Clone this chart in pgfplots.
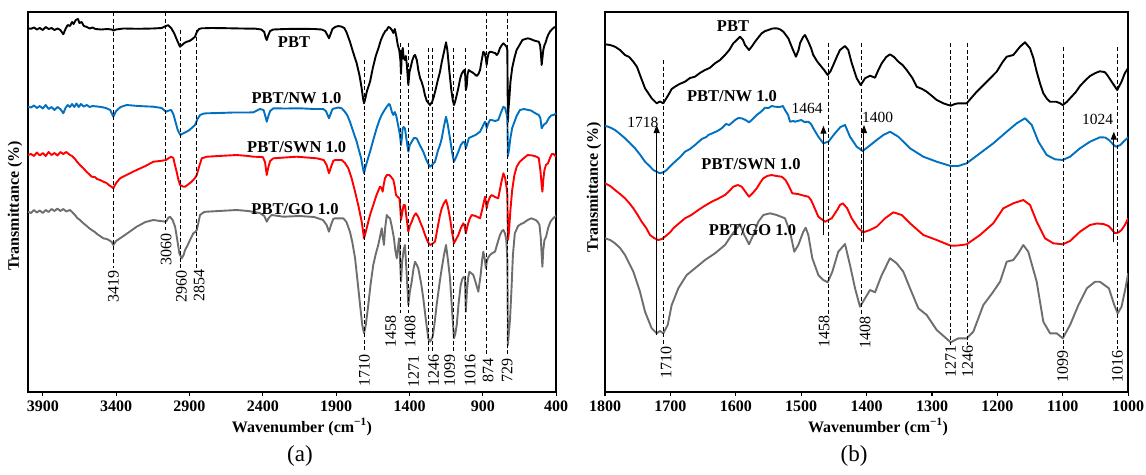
\documentclass[border=0pt]{standalone}
\usepackage{fontspec}
\setmainfont{Liberation Serif}
\usepackage{pgfplots}
\pgfplotsset{compat=1.18}
\usetikzlibrary{arrows.meta}
\definecolor{nwblue}{HTML}{0070C0}
\definecolor{swnred}{HTML}{FF0000}
\definecolor{gogray}{HTML}{6E6E6E}
\pgfplotsset{ftir/.style={
  scale only axis, anchor=center, x dir=reverse,
  ymin=-392, ymax=-12.3, ytick=\empty,
  axis line style={line width=1.9pt},
  tick align=outside, xtick pos=left, major tick length=4pt,
  tick style={black, line width=1.2pt},
  xticklabel style={font=\bfseries\fontsize{16}{16}\selectfont, yshift=-1.5pt},
  /pgf/number format/assume math mode=true,
  /pgf/number format/1000 sep={},
  every axis plot/.append style={line width=1.9pt, line join=round},
}}
\tikzset{
  dl/.style={black, line width=1pt, dash pattern=on 4pt off 2.5pt},
  ar/.style={black, line width=1pt, -{Triangle[length=8pt,width=6pt]}},
  pk/.style={rotate=90, anchor=base, font=\fontsize{16}{16}\selectfont, inner sep=0pt},
  sl/.style={anchor=base, font=\bfseries\fontsize{16.5}{16.5}\selectfont, inner sep=0pt},
  al/.style={anchor=base, font=\fontsize{15.5}{15.5}\selectfont, inner sep=0pt},
}
\begin{document}
\begin{tikzpicture}
\path[use as bounding box] (0pt,0pt) rectangle (1146pt,-474pt);
% ---------------- panel (a)
\begin{axis}[ftir, at={(292.15pt,-202.15pt)}, width=528.1pt, height=379.7pt,
  xmin=400, xmax=4000, xtick={400,900,1400,1900,2400,2900,3400,3900}]
\addplot[black] coordinates {(4000,-28.3)(3980,-28.8)(3960,-27.5)(3940,-29.5)(3920,-28)(3900,-30)(3880,-27)(3860,-29)(3840,-28)(3820,-30)(3800,-28.5)(3780,-30)(3760,-34.3)(3745,-29)(3730,-25)(3715,-26)(3700,-22)(3690,-24)(3675,-20)(3660,-19)(3650,-23)(3635,-22)(3620,-26)(3600,-27)(3580,-28.5)(3560,-27.5)(3540,-29)(3500,-29.5)(3460,-29)(3430,-29.5)(3419,-30.5)(3400,-29.5)(3350,-28.5)(3250,-28.8)(3150,-28.5)(3090,-28)(3060,-26)(3045,-25.2)(3025,-28)(3005,-33)(2985,-40)(2965,-46.7)(2950,-45)(2935,-43)(2918,-41.7)(2900,-41)(2880,-39)(2862,-36.7)(2850,-32)(2835,-29)(2816,-28.3)(2750,-28)(2650,-28.2)(2550,-28.5)(2450,-28.7)(2410,-29.5)(2390,-32)(2380,-38)(2373,-40)(2362,-35)(2350,-31)(2328,-29.5)(2250,-29)(2150,-28.8)(2050,-29)(2000,-29.5)(1975,-31)(1960,-35)(1949,-38.3)(1938,-34)(1925,-29)(1907,-27)(1885,-26)(1862,-26.7)(1845,-28)(1830,-32)(1806,-41.7)(1785,-52)(1760,-63.3)(1740,-76)(1726,-88.3)(1716,-99)(1710,-103.3)(1702,-99)(1690,-91)(1669,-81.7)(1650,-68)(1630,-56)(1612,-48.3)(1595,-40)(1580,-35)(1565,-31)(1555,-30)(1545,-27)(1533,-27.7)(1520,-30)(1510,-33)(1500,-29)(1490,-36)(1480,-45)(1470,-50)(1462,-60)(1458,-74)(1452,-52)(1446,-48)(1440,-58)(1432,-60)(1425,-56)(1418,-65)(1408,-85)(1400,-72)(1390,-66)(1380,-60)(1370,-56)(1362,-55)(1350,-60)(1340,-70)(1328,-78)(1317,-82)(1305,-88)(1295,-95)(1282,-101)(1271,-103)(1260,-105)(1252,-103)(1246,-102)(1235,-97)(1226,-92)(1210,-82)(1192,-71.7)(1180,-62)(1165,-52)(1151,-42.3)(1142,-50)(1128,-71.7)(1115,-90)(1105,-100)(1097,-105)(1088,-101)(1078,-95)(1067,-88)(1055,-79)(1045,-74)(1033,-71)(1025,-70)(1020,-76)(1016,-90)(1010,-86)(1004,-74)(996,-70)(988,-71)(976,-72)(965,-73)(950,-75)(942,-76)(930,-74)(919,-70)(910,-62)(897,-51.7)(888,-53)(880,-58)(874,-65)(868,-58)(860,-53)(851,-51.7)(840,-52)(830,-52.5)(817,-53)(805,-55)(795,-53)(783,-48)(770,-45)(760,-43.3)(748,-45)(738,-47)(733,-50)(731,-90)(729,-122)(726,-110)(720,-100)(712,-82)(700,-68)(685,-58)(670,-50)(650,-45)(630,-40)(610,-39)(594,-38.3)(575,-39)(560,-40)(540,-41)(519,-41.7)(510,-45)(505,-52)(499,-65)(494,-58)(488,-50)(480,-45)(474,-43.3)(463,-38)(455,-35)(443,-31.7)(430,-29.5)(415,-27.5)(400,-26.7)};
\addplot[nwblue] coordinates {(4000,-106.7)(3980,-107.5)(3960,-105.5)(3940,-108)(3920,-106)(3900,-108.5)(3880,-105)(3860,-109)(3840,-107)(3820,-110)(3800,-107)(3780,-109)(3760,-113.3)(3745,-108)(3730,-105)(3715,-107)(3700,-104)(3685,-107)(3670,-103.5)(3655,-107)(3640,-104)(3620,-106.5)(3600,-105)(3580,-107)(3560,-106)(3530,-106.5)(3500,-107)(3470,-108)(3440,-110)(3419,-116.7)(3400,-111)(3370,-107)(3328,-105)(3250,-106)(3146,-106.7)(3090,-108)(3060,-111.7)(3040,-110.5)(3025,-110)(3010,-114)(2995,-122)(2980,-130)(2962,-135)(2945,-133.5)(2919,-131.7)(2900,-130)(2885,-128)(2862,-125)(2845,-119)(2828,-115)(2800,-113.5)(2782,-113.3)(2700,-113)(2600,-112.5)(2500,-112.5)(2465,-112.3)(2419,-109)(2395,-110)(2385,-115)(2373,-121.7)(2362,-116)(2350,-111)(2328,-108.3)(2250,-108.5)(2147,-108.3)(2050,-109)(1988,-109)(1970,-111)(1958,-115)(1949,-118.3)(1938,-114)(1925,-109)(1908,-108.3)(1885,-107.5)(1862,-108.3)(1845,-111)(1825,-115)(1806,-121.7)(1785,-131)(1760,-141.7)(1745,-150)(1730,-158)(1718,-168)(1710,-173.3)(1700,-167)(1690,-162)(1669,-151.7)(1645,-139)(1624,-128.3)(1605,-120)(1590,-115)(1570,-110)(1555,-106.7)(1540,-104)(1533,-105)(1520,-112)(1510,-115)(1500,-112)(1490,-116)(1478,-125)(1465,-135)(1458,-145)(1452,-138)(1446,-128)(1440,-127)(1431,-128.3)(1420,-140)(1408,-151.7)(1398,-145)(1385,-141.7)(1370,-138)(1351,-138.3)(1330,-145)(1306,-151.7)(1285,-160)(1271,-164)(1260,-166.7)(1246,-165)(1226,-161.7)(1205,-150)(1192,-145)(1180,-138.3)(1165,-126)(1151,-116.7)(1140,-124)(1124,-138.3)(1110,-152)(1097,-161.7)(1085,-158)(1067,-151.7)(1050,-145)(1033,-141.7)(1024,-142)(1016,-148.3)(1005,-143)(995,-138)(976,-136.7)(950,-135)(919,-131.7)(900,-126)(885,-121.7)(879,-124)(874,-128.3)(865,-124)(851,-120)(840,-120)(817,-121)(795,-120)(775,-112)(760,-106.7)(748,-108)(738,-114)(733,-118)(729,-156)(722,-150)(712,-138)(700,-128)(690,-124)(670,-116)(647,-110)(620,-109)(590,-110)(572,-110.5)(545,-113)(519,-115)(508,-118)(499,-128.3)(490,-126)(480,-124)(469,-123.3)(450,-118)(435,-115.5)(418,-115)(400,-113.3)};
\addplot[swnred] coordinates {(4000,-155)(3980,-154)(3960,-156)(3940,-152.5)(3920,-155.5)(3900,-153)(3880,-156)(3860,-152)(3840,-155)(3820,-153)(3800,-155.5)(3780,-152)(3760,-154)(3740,-152)(3714,-155)(3700,-156)(3680,-159)(3665,-162)(3646,-165)(3625,-168)(3600,-172)(3585,-174)(3566,-176.7)(3545,-177)(3530,-179)(3510,-180)(3487,-181.7)(3465,-183)(3450,-185)(3430,-187)(3419,-188.3)(3400,-183)(3373,-178.3)(3330,-175)(3260,-170)(3200,-166)(3146,-161.7)(3100,-161)(3060,-160)(3040,-158)(3025,-156.7)(3010,-158)(2999,-165)(2987,-172)(2975,-180)(2964,-185)(2945,-186.5)(2930,-186.7)(2905,-184)(2885,-181.7)(2862,-178)(2850,-175)(2835,-167)(2816,-158.3)(2782,-156.7)(2700,-156)(2578,-155)(2500,-156)(2465,-156.7)(2400,-157)(2385,-162)(2373,-175)(2362,-167)(2350,-161)(2328,-158.3)(2250,-157.5)(2169,-156.7)(2100,-157.5)(2032,-158.3)(1985,-160)(1965,-165)(1949,-173.3)(1935,-167)(1920,-161)(1908,-160)(1862,-160)(1840,-163)(1817,-168.3)(1795,-178)(1771,-191.7)(1748,-206)(1726,-221.7)(1716,-232)(1710,-238.3)(1700,-233)(1681,-221.7)(1665,-213)(1647,-205)(1625,-195)(1601,-186.7)(1590,-188)(1583,-191.7)(1575,-184)(1567,-178.3)(1555,-175)(1538,-175)(1525,-177)(1510,-180)(1500,-187)(1492,-195)(1480,-197)(1469,-198.3)(1463,-208)(1458,-220)(1450,-213)(1440,-205)(1431,-205)(1420,-218)(1408,-231.7)(1398,-226)(1385,-221.7)(1370,-216)(1356,-213.3)(1340,-217)(1328,-221.7)(1310,-228)(1294,-235)(1275,-242)(1260,-245)(1246,-244)(1226,-241.7)(1205,-225)(1192,-215)(1180,-208.3)(1165,-203)(1151,-200)(1138,-207)(1124,-218.3)(1110,-232)(1097,-243.3)(1085,-240)(1067,-235)(1050,-228)(1033,-223.3)(1024,-226)(1016,-233.3)(1005,-226)(990,-219)(976,-215)(950,-216)(919,-218.3)(905,-210)(885,-196.7)(879,-202)(874,-208.3)(865,-202)(851,-197)(840,-195)(817,-197)(795,-198.3)(775,-183)(760,-173.3)(748,-178)(738,-188)(733,-195)(729,-240)(722,-232)(712,-210)(700,-190)(685,-175)(670,-167)(650,-162)(620,-158)(594,-155)(560,-155.5)(535,-156.7)(519,-158)(508,-170)(499,-185)(494,-191.7)(488,-180)(480,-170)(470,-165)(456,-163.3)(440,-157)(430,-154)(418,-154)(400,-156.7)};
\addplot[gogray] coordinates {(4000,-211.7)(3980,-213)(3960,-210)(3940,-212.5)(3920,-210.5)(3900,-213)(3880,-210)(3860,-212)(3840,-209)(3820,-211)(3800,-208.5)(3780,-211)(3760,-209)(3740,-211.5)(3714,-210)(3700,-212)(3680,-215)(3665,-218)(3646,-220)(3625,-223)(3600,-226)(3585,-228)(3566,-230)(3545,-232)(3530,-234)(3510,-236)(3487,-238.3)(3465,-239)(3450,-240)(3430,-242)(3419,-245)(3400,-241)(3373,-238.3)(3330,-234)(3260,-226.7)(3200,-222)(3146,-220)(3100,-221)(3060,-221.7)(3045,-218)(3033,-216.7)(3015,-220)(2998,-226.7)(2985,-238)(2969,-253.3)(2953,-258.3)(2940,-255)(2930,-250)(2915,-246)(2896,-240)(2874,-233.3)(2860,-232)(2850,-230)(2838,-222)(2828,-215)(2800,-212)(2782,-211.7)(2700,-211)(2578,-210)(2500,-211)(2420,-213)(2390,-216)(2373,-221.7)(2360,-218)(2340,-215)(2260,-216.7)(2150,-216)(2050,-217)(1990,-220)(1965,-225)(1949,-231.7)(1935,-225)(1920,-219)(1908,-218.3)(1851,-218.3)(1830,-222)(1806,-231.7)(1790,-242)(1771,-258.3)(1755,-280)(1737,-305)(1722,-325)(1710,-333.3)(1698,-325)(1681,-305)(1665,-284)(1647,-265)(1630,-254)(1613,-245)(1600,-236)(1589,-228.3)(1582,-237)(1574,-245)(1566,-228)(1555,-215)(1545,-217)(1533,-218.3)(1520,-227)(1506,-238.3)(1497,-250)(1487,-258.3)(1478,-247)(1471,-238.3)(1464,-262)(1458,-281.7)(1450,-262)(1440,-250)(1431,-245)(1420,-272)(1408,-305)(1397,-291)(1385,-281.7)(1372,-268)(1362,-261.7)(1350,-265)(1340,-268.3)(1320,-284)(1306,-298.3)(1290,-318)(1272,-338.3)(1260,-341.7)(1250,-339)(1242,-336.7)(1228,-322)(1215,-305)(1195,-283)(1180,-268.3)(1165,-255)(1151,-245)(1138,-260)(1124,-278.3)(1110,-310)(1097,-338.3)(1088,-334)(1078,-325)(1065,-303)(1051,-285)(1040,-279)(1030,-277)(1022,-278)(1016,-311.7)(1008,-290)(1000,-278)(992,-271.7)(980,-273)(965,-275)(950,-282)(931,-291.7)(915,-275)(905,-260)(897,-251.7)(888,-258)(879,-268.3)(874,-262)(865,-258)(851,-255)(835,-253)(817,-251.7)(800,-243)(783,-235)(770,-231)(760,-230)(750,-233)(740,-240)(733,-260)(729,-345)(724,-335)(715,-320)(705,-290)(695,-255)(682,-233.3)(660,-226)(640,-224)(620,-222.7)(595,-220)(569,-218.3)(540,-220)(525,-222)(514,-225)(505,-238)(499,-255)(494,-266.7)(488,-250)(480,-240)(469,-236.7)(455,-228)(440,-222)(431,-220)(415,-217.5)(401,-216)};
\draw[dl] (axis cs:3419,-12.3) -- (axis cs:3419,-268);
\draw[dl] (axis cs:3060,-12.3) -- (axis cs:3060,-230);
\draw[dl] (axis cs:2960,-30) -- (axis cs:2960,-268);
\draw[dl] (axis cs:2854,-30) -- (axis cs:2854,-268);
\draw[dl] (axis cs:1710,-60) -- (axis cs:1710,-352);
\draw[dl] (axis cs:1458,-43) -- (axis cs:1458,-313);
\draw[dl] (axis cs:1408,-43) -- (axis cs:1408,-313);
\draw[dl] (axis cs:1271,-48) -- (axis cs:1271,-353);
\draw[dl] (axis cs:1246,-48) -- (axis cs:1246,-353);
\draw[dl] (axis cs:1099,-48) -- (axis cs:1099,-353);
\draw[dl] (axis cs:1016,-48) -- (axis cs:1016,-353);
\draw[dl] (axis cs:874,-12.3) -- (axis cs:874,-356);
\draw[dl] (axis cs:729,-12.3) -- (axis cs:729,-356);
\end{axis}
% ---------------- panel (b)
\begin{axis}[ftir, at={(866.6pt,-202.15pt)}, width=523.2pt, height=379.7pt,
  xmin=1000, xmax=1800, xtick={1000,1100,1200,1300,1400,1500,1600,1700,1800}]
\addplot[black] coordinates {(1800,-44.3)(1792,-45)(1784.7,-46.7)(1777,-50)(1769.4,-55)(1763,-57)(1756.7,-61.7)(1751,-67)(1746.5,-75)(1738.8,-88.3)(1733,-94)(1728.6,-98.3)(1721,-103.3)(1716,-101.5)(1710.9,-103.3)(1703.2,-95)(1698,-89)(1693,-86.7)(1686,-84)(1677.7,-81.7)(1670,-78)(1662.4,-76.7)(1655,-73)(1647.1,-70)(1640,-68)(1631.8,-63.3)(1624,-60)(1616.5,-55)(1610,-50)(1603.8,-43.3)(1597,-39)(1593.6,-36.7)(1589,-40)(1585.9,-45)(1579.8,-50)(1575,-46)(1570.6,-41.7)(1565,-37)(1560.4,-33.3)(1555,-31)(1550.3,-30)(1544,-28.5)(1537.5,-28.3)(1532,-29.5)(1527.3,-31.7)(1519.7,-38.3)(1513.6,-48.3)(1508,-56.7)(1504,-50)(1501.8,-43.3)(1497,-37)(1494.2,-35)(1489.1,-41.7)(1485,-48)(1481.5,-55)(1476,-61)(1471.2,-65)(1465,-70)(1459.5,-75)(1455,-71)(1450.9,-65)(1445,-56)(1440.7,-50)(1433,-46)(1428,-50)(1422.8,-63)(1415.1,-78.3)(1409,-85)(1402.4,-78.3)(1394.8,-75.7)(1387.1,-77.7)(1382,-70)(1376.9,-63.3)(1370,-57)(1364.2,-54.3)(1358,-57)(1351.5,-61.7)(1345,-65)(1338.7,-70)(1330,-78)(1323.4,-86.7)(1315,-89)(1308.1,-91.7)(1300,-96)(1292.8,-100)(1282,-103.5)(1271.4,-105.7)(1265,-104)(1259.8,-103.3)(1247,-103.3)(1240,-98)(1231.6,-91.7)(1216.3,-81.7)(1201.1,-71.7)(1192,-62)(1185.8,-56.7)(1175.7,-55)(1165.4,-46.7)(1157.8,-42.3)(1150.1,-48.3)(1145,-58)(1139.9,-71.7)(1135,-83)(1129.8,-93.3)(1124,-99)(1119.5,-101.7)(1110.3,-101.7)(1105,-103)(1100.1,-105)(1094,-102)(1088.9,-98.3)(1080,-92)(1073.7,-86)(1065,-80)(1058.4,-76)(1050,-73)(1043.4,-71.3)(1036,-72)(1032,-75)(1025,-82)(1016.8,-90)(1010.2,-81.7)(1005,-73)(1000,-68)};
\addplot[nwblue] coordinates {(1800,-125.7)(1792,-127.5)(1784.7,-130)(1777,-134)(1769.4,-138.3)(1762,-143)(1754.1,-148.3)(1746,-155)(1738.8,-161.7)(1732,-166)(1726.1,-170)(1720,-172)(1715.9,-173.3)(1710,-172)(1705.7,-170)(1700,-166)(1693,-161.7)(1685,-157)(1677.7,-151.7)(1670,-149)(1662.4,-145)(1652,-139)(1645,-137)(1642,-135)(1635,-133)(1628,-131)(1621.6,-128.3)(1615,-124)(1610,-125)(1601.2,-120)(1596,-118)(1591,-118.3)(1585,-120)(1579.8,-122.3)(1574,-119)(1568,-115)(1562,-112)(1555.3,-107.7)(1550,-108)(1545,-106)(1540,-106.7)(1533,-107)(1528,-106)(1524.8,-110)(1520,-115)(1517.1,-121.7)(1512,-121)(1509.5,-121.7)(1500,-120)(1495,-122)(1489.1,-121.7)(1485,-124)(1481.5,-128.3)(1473.8,-136.7)(1466.2,-143.3)(1458.5,-141.7)(1448.3,-133.3)(1440,-127)(1433,-125)(1425.4,-136.7)(1415.1,-146.7)(1406,-151)(1397.4,-146.7)(1384.6,-140)(1374.4,-135)(1364.2,-131.7)(1351.5,-136.7)(1333.6,-148.3)(1313.3,-156.7)(1292.8,-161.7)(1271.4,-166)(1260,-166)(1247,-163.3)(1226.6,-153.3)(1206.3,-143.3)(1185.8,-131.7)(1170.5,-123.3)(1157.8,-118.3)(1147.5,-125)(1137.3,-141.7)(1124.6,-155)(1111.9,-159.3)(1100.1,-160)(1088.9,-156.7)(1073.7,-148.3)(1058.4,-141.7)(1043.4,-137.3)(1035,-137.5)(1029.5,-140)(1022,-145)(1018.6,-146.7)(1012,-145)(1006,-141)(1000,-137.3)};
\addplot[swnred] coordinates {(1800,-183.3)(1792,-186)(1784.7,-190)(1777,-194)(1769.4,-198.3)(1763,-203)(1756.7,-208.3)(1750,-215)(1743.9,-221.7)(1737,-228)(1731.2,-235)(1725,-238)(1718.5,-240)(1713,-239)(1708.3,-236.7)(1700,-232)(1695.6,-228.3)(1688,-224)(1677.7,-218.3)(1668,-215)(1657.3,-210)(1648,-206)(1636.8,-201.7)(1628,-199)(1616.5,-195)(1610,-191)(1603.8,-186.7)(1597,-185)(1591,-186.7)(1585,-192)(1579.8,-196.7)(1574,-193)(1568,-188.3)(1562,-182)(1557.9,-178.3)(1552,-176)(1545.1,-175)(1538,-176)(1529.8,-176.7)(1524,-180)(1519.7,-185)(1513.6,-193.3)(1505,-194)(1497,-195.5)(1489.1,-196.7)(1485,-200)(1481.5,-205)(1473.8,-216.7)(1463.6,-221.7)(1453.3,-218.3)(1445,-210)(1440.7,-205)(1436.4,-203.3)(1430,-208)(1422.8,-218.3)(1412.7,-228.3)(1405,-232.3)(1394.8,-230)(1384.6,-226.7)(1371.8,-218.3)(1359.1,-212.3)(1346.3,-215)(1333.6,-223.3)(1313.3,-235)(1292.8,-240)(1271.4,-245.7)(1260,-245.5)(1247,-244.3)(1226.6,-235)(1206.3,-223.3)(1191,-208.3)(1175.7,-203.3)(1160.4,-200)(1150.1,-205)(1139.9,-221.7)(1127.2,-238.3)(1114.5,-243.3)(1100.1,-244.3)(1088.9,-241)(1073.7,-231.7)(1058.4,-225)(1048,-223.5)(1037.8,-224)(1030,-226)(1026.7,-228.3)(1020.2,-233.3)(1015,-232.5)(1010.2,-230)(1005,-225)(1000,-218.3)};
\addplot[gogray] coordinates {(1800,-238.3)(1792,-240)(1784.7,-243.3)(1777,-248)(1769.4,-255)(1756.7,-271.7)(1746.5,-291.7)(1738.8,-311.7)(1728.6,-328.3)(1721,-333.3)(1716,-331)(1710.9,-333.3)(1704.1,-325)(1698,-305)(1687.9,-288.3)(1675.1,-275)(1662.4,-268.3)(1647.1,-260)(1631.8,-253.3)(1616.5,-245)(1606.3,-235)(1593.6,-224.3)(1587,-235)(1579.8,-244.3)(1573.2,-235)(1565.6,-221.7)(1557.9,-215)(1547.7,-213.3)(1537.5,-215)(1524.8,-218.3)(1517.1,-231.7)(1510.6,-251.7)(1504.4,-245)(1496.8,-231.7)(1493.1,-227.7)(1489.1,-235)(1483,-258.3)(1473.8,-275)(1466.2,-280)(1459.5,-282.3)(1452.4,-271.7)(1443.3,-251.7)(1433,-244)(1425.4,-265)(1417.7,-288.3)(1410.1,-306.7)(1402.4,-298.3)(1394.8,-290)(1387.1,-292.3)(1376.9,-275)(1364.2,-258.3)(1354,-263.3)(1343.9,-271.7)(1333.6,-288.3)(1320.9,-308.3)(1308.1,-315)(1292.8,-330)(1271.4,-342.3)(1259.8,-338.3)(1247,-338.3)(1236.8,-331.7)(1221.5,-305)(1206.3,-291.7)(1196,-281.7)(1185.8,-261.7)(1175.7,-260)(1168.1,-253.3)(1160.4,-245)(1152.8,-251.7)(1139.9,-281.7)(1129.8,-321.7)(1119.5,-333.3)(1109.3,-333.3)(1100.1,-338.3)(1088.9,-325)(1076.1,-305)(1063.3,-288.3)(1050.7,-281.7)(1043.4,-281.7)(1029.5,-288.3)(1021.3,-305)(1016,-313.3)(1010.2,-306.7)(1004.7,-290)(1000,-273.3)};
\draw[dl] (axis cs:1710,-60) -- (axis cs:1710,-345);
\draw[dl] (axis cs:1458,-43) -- (axis cs:1458,-314);
\draw[dl] (axis cs:1408,-43) -- (axis cs:1408,-315);
\draw[dl] (axis cs:1271,-43) -- (axis cs:1271,-345);
\draw[dl] (axis cs:1246,-43) -- (axis cs:1246,-345);
\draw[dl] (axis cs:1099,-47) -- (axis cs:1099,-349);
\draw[dl] (axis cs:1016,-47) -- (axis cs:1016,-349);
\draw[ar] (axis cs:1721,-335) -- (axis cs:1721,-125);
\draw[ar] (axis cs:1466,-235) -- (axis cs:1466,-125.7);
\draw[ar] (axis cs:1404,-241.7) -- (axis cs:1404,-125);
\draw[ar] (axis cs:1022,-241.7) -- (axis cs:1022,-131.7);
\end{axis}
% ---------------- texts
\begin{scope}[x=1pt,y=-1pt]
\node[rotate=90, font=\bfseries\fontsize{16}{16}\selectfont] at (15,206) {Transmittance (\%)};
\node[rotate=90, font=\bfseries\fontsize{16}{16}\selectfont] at (594,187.5) {Transmittance (\%)};
\node[font=\bfseries\fontsize{16}{16}\selectfont] at (302,427) {Wavenumber (cm\textsuperscript{−1})};
\node[font=\bfseries\fontsize{16}{16}\selectfont] at (878,427) {Wavenumber (cm\textsuperscript{−1})};
\node[font=\fontsize{23}{23}\selectfont] at (300,456) {(a)};
\node[font=\fontsize{23}{23}\selectfont] at (854,456) {(b)};
% series labels
\node[sl] at (294,47.5) {PBT};
\node[sl] at (296.5,103.5) {PBT/NW 1.0};
\node[sl] at (296.7,152.5) {PBT/SWN 1.0};
\node[sl] at (295,214.5) {PBT/GO 1.0};
\node[sl] at (733,31.5) {PBT};
\node[sl] at (732,101.5) {PBT/NW 1.0};
\node[sl] at (751,169.5) {PBT/SWN 1.0};
\node[sl] at (752.5,235.5) {PBT/GO 1.0};
% peak labels (a)
\node[pk] at (118.6,286) {3419};
\node[pk] at (171.3,249) {3060};
\node[pk] at (186.6,286.5) {2960};
\node[pk] at (204.3,285) {2854};
\node[pk] at (369.6,370) {1710};
\node[pk] at (395.8,331) {1458};
\node[pk] at (415.3,331) {1408};
\node[pk] at (418.8,371) {1271};
\node[pk] at (438.8,370) {1246};
\node[pk] at (454.8,370) {1099};
\node[pk] at (475.3,370) {1016};
\node[pk] at (493.3,370) {874};
\node[pk] at (512.3,370) {729};
% peak labels (b)
\node[pk] at (671.3,362.5) {1710};
\node[pk] at (829.3,331.5) {1458};
\node[pk] at (870.3,332.5) {1408};
\node[pk] at (955.8,361.7) {1271};
\node[pk] at (972.8,361.7) {1246};
\node[pk] at (1067.8,366.7) {1099};
\node[pk] at (1122.6,366) {1016};
% arrow labels
\node[al] at (642.8,127) {1718};
\node[al] at (807.2,113.6) {1464};
\node[al] at (877.7,122) {1400};
\node[al] at (1097.5,124.5) {1024};
\end{scope}
\end{tikzpicture}
\end{document}
